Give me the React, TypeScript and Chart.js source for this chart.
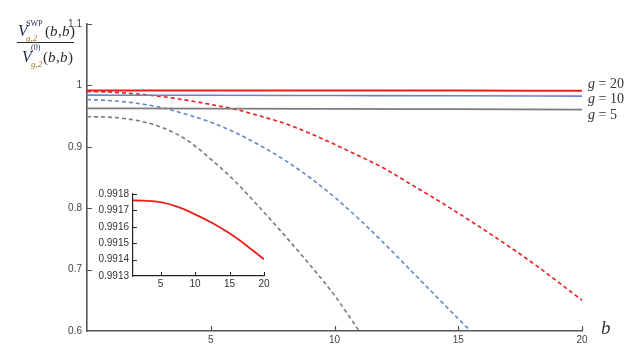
import React, { useEffect, useRef } from "react";
import { Chart, registerables } from "chart.js";

Chart.register(...registerables);

// ---------- data ----------
const bGrid = [0, 1, 2, 3, 4, 5, 6, 7, 8, 9, 10, 11, 12, 13, 14, 15, 16, 17, 18, 19, 20];
const redDashed = [0.990, 0.989, 0.986, 0.982, 0.976, 0.969, 0.961, 0.950, 0.938, 0.922, 0.904, 0.885, 0.865, 0.841, 0.817, 0.792, 0.766, 0.739, 0.711, 0.681, 0.650];
const blueDashed = [0.977, 0.975, 0.971, 0.964, 0.953, 0.940, 0.923, 0.902, 0.878, 0.850, 0.818, 0.782, 0.743, 0.702, 0.661, 0.620, 0.580];
const grayDashed = [0.949, 0.948, 0.943, 0.932, 0.912, 0.880, 0.843, 0.800, 0.755, 0.708, 0.658, 0.600, 0.545];

const solidB = [0, 5, 10, 15, 20];
const redSolid = [0.99176, 0.99175, 0.99167, 0.99156, 0.9914];
const blueSolid = [0.9841, 0.9839, 0.9835, 0.9831, 0.9826];
const graySolid = [0.9627, 0.9623, 0.9618, 0.9612, 0.9606];

const insetB = [1, 2.5, 5, 7.5, 10, 12.5, 15, 17.5, 20];
const insetRed = [0.991761, 0.991759, 0.991750, 0.991721, 0.991676, 0.991623, 0.991560, 0.991485, 0.991402];

const mainXTicks = [5, 10, 15, 20];
const mainYTicks = [0.6, 0.7, 0.8, 0.9, 1.0, 1.1];
const insetXTicks = [5, 10, 15, 20];
const insetYTicks = [0.9913, 0.9914, 0.9915, 0.9916, 0.9917, 0.9918];

const curveLabels = ["20", "10", "5"];

// ---------- styles ----------
const RED = "#f01c1c";
const BLUE = "#6486c4";
const GRAY = "#7c7c7c";
const AXIS = "#555555";
const TICKFONT = { family: "Liberation Sans, Arial, sans-serif", size: 10 };

const pts = (xs: number[], ys: number[]) => ys.map((y, i) => ({ x: xs[i], y }));

const innerTicks = (xTicks: number[], yTicks: number[], color: string, len: number, width: number) => ({
  id: "innerTicks",
  afterDraw(chart: any) {
    const { ctx, chartArea } = chart;
    const xs = chart.scales.x;
    const ys = chart.scales.y;
    ctx.save();
    ctx.strokeStyle = color;
    ctx.lineWidth = width;
    ctx.beginPath();
    xTicks.forEach((v) => {
      const px = Math.round(xs.getPixelForValue(v)) + 0.5;
      ctx.moveTo(px, chartArea.bottom);
      ctx.lineTo(px, chartArea.bottom - len);
    });
    yTicks.forEach((v) => {
      const py = Math.round(ys.getPixelForValue(v)) + 0.5;
      if (Math.abs(py - chartArea.bottom) < 2) return;
      ctx.moveTo(chartArea.left, py);
      ctx.lineTo(chartArea.left + len, py);
    });
    ctx.stroke();
    ctx.restore();
  },
});

const textPlugin = {
  id: "texts",
  afterDraw(chart: any) {
    const ctx = chart.ctx;
    const navy = "#1e2c4c";
    const brown = "#b3742f";
    const dark = "#2a2a2a";
    ctx.save();
    ctx.textBaseline = "alphabetic";
    ctx.textAlign = "left";
    const serif = "'Liberation Serif', 'DejaVu Serif', serif";
    // numerator
    ctx.fillStyle = navy;
    ctx.font = `italic 16px ${serif}`;
    ctx.fillText("V", 18, 36);
    ctx.font = `8px ${serif}`;
    ctx.fillText("SWP", 26, 26);
    ctx.fillStyle = brown;
    ctx.font = `italic 9px ${serif}`;
    ctx.fillText("g,2", 26, 41);
    ctx.fillStyle = dark;
    ctx.font = `15px ${serif}`;
    ctx.fillText("(", 45, 36);
    ctx.font = `italic 15px ${serif}`;
    ctx.fillText("b", 50, 36);
    ctx.font = `15px ${serif}`;
    ctx.fillText(",", 58, 36);
    ctx.font = `italic 15px ${serif}`;
    ctx.fillText("b", 62, 36);
    ctx.font = `15px ${serif}`;
    ctx.fillText(")", 70, 36);
    // bar
    ctx.strokeStyle = dark;
    ctx.lineWidth = 1;
    ctx.beginPath();
    ctx.moveTo(17, 42.5);
    ctx.lineTo(74, 42.5);
    ctx.stroke();
    // denominator
    ctx.fillStyle = navy;
    ctx.font = `italic 16px ${serif}`;
    ctx.fillText("V", 22, 62);
    ctx.font = `8px ${serif}`;
    ctx.fillText("(0)", 31, 50);
    ctx.fillStyle = brown;
    ctx.font = `italic 9px ${serif}`;
    ctx.fillText("g,2", 31, 67);
    ctx.fillStyle = dark;
    ctx.font = `15px ${serif}`;
    ctx.fillText("(", 43, 62);
    ctx.font = `italic 15px ${serif}`;
    ctx.fillText("b", 48, 62);
    ctx.font = `15px ${serif}`;
    ctx.fillText(",", 56, 62);
    ctx.font = `italic 15px ${serif}`;
    ctx.fillText("b", 60, 62);
    ctx.font = `15px ${serif}`;
    ctx.fillText(")", 68, 62);

    // curve labels
    ctx.fillStyle = "#333";
    ctx.textBaseline = "middle";
    const ys = [84, 99, 115];
    curveLabels.forEach((lab, i) => {
      ctx.font = `italic 14px ${serif}`;
      ctx.fillText("g", 588, ys[i]);
      const w = ctx.measureText("g").width;
      ctx.font = `14px ${serif}`;
      ctx.fillText(" = " + lab, 588 + w, ys[i]);
    });
    // b axis label
    ctx.font = `italic 19px ${serif}`;
    ctx.fillText("b", 601, 329);
    ctx.restore();
  },
};

const fmtMain = (v: number) => String(Math.round(v * 10) / 10);

export default function App() {
  const mainRef = useRef<HTMLCanvasElement>(null);
  const insetRef = useRef<HTMLCanvasElement>(null);

  useEffect(() => {
    const main = new Chart(mainRef.current as HTMLCanvasElement, {
      type: "line",
      data: {
        datasets: [
          { data: pts(solidB, redSolid), borderColor: RED, borderWidth: 2 },
          { data: pts(solidB, blueSolid), borderColor: BLUE, borderWidth: 1.6 },
          { data: pts(solidB, graySolid), borderColor: GRAY, borderWidth: 1.8 },
          { data: pts(bGrid, redDashed), borderColor: RED, borderWidth: 1.6, borderDash: [4, 3] },
          { data: pts(bGrid, blueDashed), borderColor: BLUE, borderWidth: 1.6, borderDash: [4, 3] },
          { data: pts(bGrid, grayDashed), borderColor: GRAY, borderWidth: 1.6, borderDash: [4, 3] },
        ].map((d) => ({ ...d, pointRadius: 0, cubicInterpolationMode: "monotone", fill: false, clip: 0 })) as any,
      },
      options: {
        responsive: false,
        animation: false,
        devicePixelRatio: 1,
        layout: { padding: { top: 24, right: 57, left: 0, bottom: 0 } },
        plugins: { legend: { display: false }, tooltip: { enabled: false } },
        scales: {
          x: {
            type: "linear",
            min: 0,
            max: 20,
            grid: { display: false, drawTicks: false },
            border: { display: true, color: AXIS, width: 1.6 },
            ticks: { font: TICKFONT, color: "#444", padding: 3, callback: (v: any) => (v === 0 ? "" : String(v)) },
            afterBuildTicks: (s: any) => { s.ticks = mainXTicks.map((v) => ({ value: v })); },
            afterFit: (s: any) => { s.height = 30; },
          },
          y: {
            type: "linear",
            min: 0.6,
            max: 1.1,
            grid: { display: false, drawTicks: false },
            border: { display: true, color: AXIS, width: 1.6 },
            ticks: { font: TICKFONT, color: "#444", padding: 5, callback: (v: any) => fmtMain(Number(v)) },
            afterBuildTicks: (s: any) => { s.ticks = mainYTicks.map((v) => ({ value: v })); },
            afterFit: (s: any) => { s.width = 87; },
          },
        },
      },
      plugins: [innerTicks(mainXTicks, mainYTicks, AXIS, 5, 1.2), textPlugin],
    });

    const inset = new Chart(insetRef.current as HTMLCanvasElement, {
      type: "line",
      data: {
        datasets: [
          { data: pts(insetB, insetRed), borderColor: RED, borderWidth: 1.8, pointRadius: 0, cubicInterpolationMode: "monotone", fill: false },
        ] as any,
      },
      options: {
        responsive: false,
        animation: false,
        devicePixelRatio: 1,
        layout: { padding: { top: 14, right: 16, left: 0, bottom: 0 } },
        plugins: { legend: { display: false }, tooltip: { enabled: false } },
        scales: {
          x: {
            type: "linear",
            min: 1,
            max: 20,
            grid: { display: false, drawTicks: false },
            border: { display: true, color: "#222", width: 1.2 },
            ticks: { font: TICKFONT, color: "#333", padding: 2 },
            afterBuildTicks: (s: any) => { s.ticks = insetXTicks.map((v) => ({ value: v })); },
            afterFit: (s: any) => { s.height = 24; },
          },
          y: {
            type: "linear",
            min: 0.9913,
            max: 0.9918,
            grid: { display: false, drawTicks: false },
            border: { display: true, color: "#222", width: 1.2 },
            ticks: { font: TICKFONT, color: "#333", padding: 4, callback: (v: any) => Number(v).toFixed(4) },
            afterBuildTicks: (s: any) => { s.ticks = insetYTicks.map((v) => ({ value: v })); },
            afterFit: (s: any) => { s.width = 43; },
          },
        },
      },
      plugins: [innerTicks(insetXTicks, insetYTicks, "#222", 4, 1)],
    });

    return () => {
      main.destroy();
      inset.destroy();
    };
  }, []);

  return (
    <div style={{ position: "fixed", left: 0, top: 0, width: 639, height: 361, background: "#fff" }}>
      <canvas ref={mainRef} width={639} height={361} style={{ position: "absolute", left: 0, top: 0, width: 639, height: 361 }} />
      <canvas ref={insetRef} width={190} height={120} style={{ position: "absolute", left: 90, top: 180, width: 190, height: 120 }} />
    </div>
  );
}
